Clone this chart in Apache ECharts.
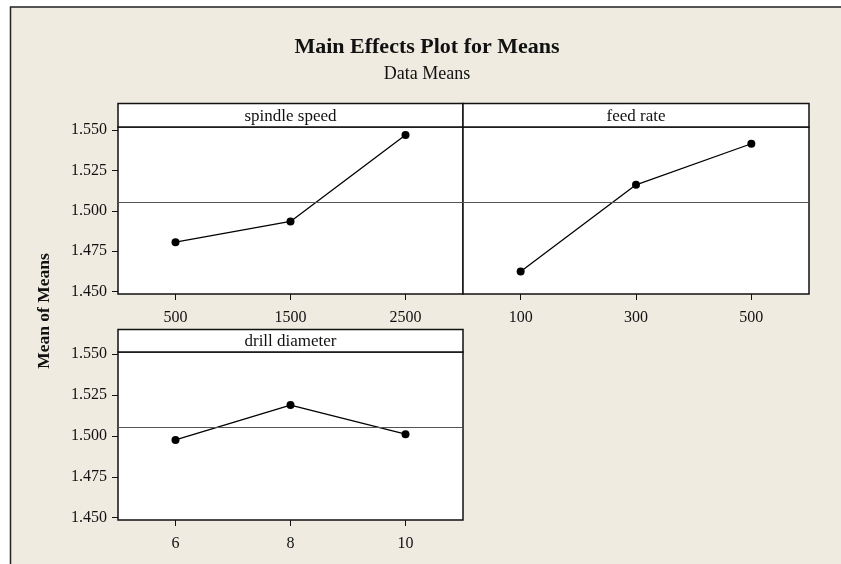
<!DOCTYPE html>
<html>
<head>
<meta charset="utf-8">
<script src="https://cdn.jsdelivr.net/npm/echarts@6/dist/echarts.min.js"></script>
<style>
html,body{margin:0;padding:0;background:#ffffff;}
#chart{width:841px;height:564px;}
</style>
</head>
<body>
<div id="chart"></div>
<script>
// ---- data ----
var chartTitle = 'Main Effects Plot for Means';
var chartSubtitle = 'Data Means';
var yAxisTitle = 'Mean of Means';
var factorNames = ['spindle speed', 'feed rate', 'drill diameter'];
var spindleLevels = ['500', '1500', '2500'];
var spindleMeans = [1.4806, 1.4934, 1.5469];
var feedLevels = ['100', '300', '500'];
var feedMeans = [1.4624, 1.5161, 1.5415];
var drillLevels = ['6', '8', '10'];
var drillMeans = [1.4975, 1.5188, 1.5010];
var overallMean = 1.5055;
var yTickValues = [1.450, 1.475, 1.500, 1.525, 1.550];

// ---- layout ----
var FONT = '"Liberation Serif", "DejaVu Serif", serif';
var panels = [
  {left: 118, top: 127, width: 345, height: 167, head: 23.5, ymin: 1.44851, ymax: 1.55186, showY: true},
  {left: 463, top: 127, width: 346, height: 167, head: 23.5, ymin: 1.44851, ymax: 1.55186, showY: false},
  {left: 118, top: 352, width: 345, height: 168, head: 22.5, ymin: 1.44862, ymax: 1.55122, showY: true}
];
var levelSets = [spindleLevels, feedLevels, drillLevels];
var meanSets = [spindleMeans, feedMeans, drillMeans];

var grids = [], xAxes = [], yAxes = [], series = [], graphics = [];

graphics.push({
  type: 'rect', z: -10, silent: true,
  shape: {x: 10.5, y: 7, width: 840, height: 570},
  style: {fill: '#EFEBE1', stroke: '#222', lineWidth: 1.5}
});
graphics.push({
  type: 'text', silent: true, x: 427, y: 47.5,
  style: {text: chartTitle, font: 'bold 22px ' + FONT, fill: '#111', align: 'center', verticalAlign: 'middle'}
});
graphics.push({
  type: 'text', silent: true, x: 427, y: 74,
  style: {text: chartSubtitle, font: '18px ' + FONT, fill: '#111', align: 'center', verticalAlign: 'middle'}
});
graphics.push({
  type: 'text', silent: true, x: 44, y: 311, rotation: Math.PI / 2,
  style: {text: yAxisTitle, font: 'bold 17.5px ' + FONT, fill: '#111', align: 'center', verticalAlign: 'middle'}
});

panels.forEach(function (p, i) {
  grids.push({
    left: p.left, top: p.top, width: p.width, height: p.height,
    show: true, backgroundColor: '#ffffff', borderColor: '#111', borderWidth: 1.5, containLabel: false
  });
  graphics.push({
    type: 'rect', silent: true, z: 5,
    shape: {x: p.left, y: p.top - p.head, width: p.width, height: p.head},
    style: {fill: '#ffffff', stroke: '#111', lineWidth: 1.5}
  });
  graphics.push({
    type: 'text', silent: true, z: 6, x: p.left + p.width / 2, y: p.top - p.head / 2 + 1,
    style: {text: factorNames[i], font: '17px ' + FONT, fill: '#111', align: 'center', verticalAlign: 'middle'}
  });
  xAxes.push({
    type: 'category', gridIndex: i, data: levelSets[i], boundaryGap: true,
    axisLine: {show: false},
    axisTick: {show: true, alignWithLabel: true, length: 6, lineStyle: {color: '#111', width: 1}},
    axisLabel: {margin: 16, fontFamily: FONT, fontSize: 16, color: '#111'},
    splitLine: {show: false}
  });
  yAxes.push({
    type: 'value', gridIndex: i, min: p.ymin, max: p.ymax,
    axisLine: {show: false},
    axisTick: {show: p.showY, length: 6, customValues: yTickValues, lineStyle: {color: '#111', width: 1}},
    axisLabel: {
      show: p.showY, margin: 11, customValues: yTickValues, fontFamily: FONT, fontSize: 16, color: '#111',
      padding: [4, 0, 0, 0],
      formatter: function (v) { return Number(v).toFixed(3); }
    },
    splitLine: {show: false}
  });
  series.push({
    type: 'line', xAxisIndex: i, yAxisIndex: i, data: meanSets[i],
    symbol: 'circle', symbolSize: 8, showSymbol: true,
    lineStyle: {color: '#000', width: 1.3},
    itemStyle: {color: '#000'},
    emphasis: {disabled: true},
    markLine: {
      silent: true, symbol: 'none', label: {show: false}, precision: 6,
      lineStyle: {color: '#555', width: 1.2, type: 'solid'},
      data: [{yAxis: overallMean}]
    },
    z: 3
  });
});

var chart = echarts.init(document.getElementById('chart'), null, {renderer: 'canvas'});
chart.setOption({
  animation: false,
  backgroundColor: 'transparent',
  grid: grids,
  xAxis: xAxes,
  yAxis: yAxes,
  series: series,
  graphic: graphics,
  tooltip: {show: false}
});
</script>
</body>
</html>
